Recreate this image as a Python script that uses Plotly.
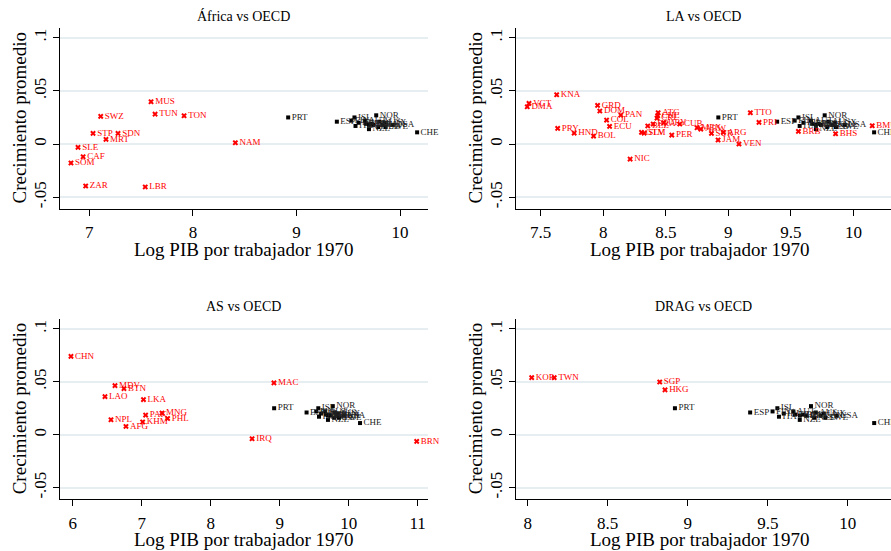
import plotly.graph_objects as go

# ---------------- data ----------------
oecd_codes = ["PRT", "ESP", "FIN", "ISL", "ITA", "IRL", "AUT", "FRA", "GBR", "NZL",
              "BEL", "DNK", "NOR", "NLD", "AUS", "CAN", "LUX", "SWE", "USA", "CHE"]
oecd_x = [8.92, 9.39, 9.53, 9.56, 9.57, 9.60, 9.66, 9.67, 9.70, 9.70,
          9.72, 9.74, 9.77, 9.79, 9.80, 9.83, 9.85, 9.86, 9.93, 10.165]
oecd_y = [0.025, 0.021, 0.022, 0.025, 0.017, 0.020, 0.022, 0.019, 0.018, 0.014,
          0.019, 0.018, 0.027, 0.016, 0.021, 0.018, 0.020, 0.016, 0.018, 0.011]

africa_codes = ["MUS", "TUN", "TON", "SWZ", "STP", "SDN", "MRT", "SLE", "CAF", "SOM", "ZAR", "LBR", "NAM"]
africa_x = [7.596, 7.635, 7.915, 7.11, 7.036, 7.277, 7.161, 6.891, 6.94, 6.823, 6.965, 7.54, 8.41]
africa_y = [0.0397, 0.0281, 0.0266, 0.026, 0.010, 0.010, 0.0044, -0.0031, -0.0119, -0.0178, -0.0394, -0.0403, 0.0012]

la_codes = ["VCT", "DMA", "KNA", "PRY", "HND", "BOL", "GRD", "DOM", "COL", "ECU", "PAN", "NIC",
            "GTM", "SLV", "BLZ", "BRA", "ATG", "CHL", "CRI", "URY", "CUB", "PER", "MEX", "ABW",
            "SUR", "ARG", "JAM", "VEN", "TTO", "PRI", "BRB", "BHS", "BMU"]
la_x = [7.407, 7.393, 7.628, 7.636, 7.768, 7.923, 7.955, 7.973, 8.027, 8.051, 8.141, 8.215,
        8.306, 8.327, 8.356, 8.399, 8.439, 8.435, 8.43, 8.484, 8.612, 8.548, 8.75, 8.78,
        8.865, 8.96, 8.918, 9.085, 9.176, 9.245, 9.56, 9.857, 10.15]
la_y = [0.0382, 0.035, 0.0463, 0.0147, 0.0103, 0.0075, 0.0363, 0.031, 0.0225, 0.0166, 0.0272, -0.0141,
        0.011, 0.0103, 0.017, 0.0188, 0.0294, 0.0266, 0.0244, 0.020, 0.0188, 0.0084, 0.0153, 0.014,
        0.010, 0.011, 0.0038, 0.0, 0.0294, 0.0203, 0.0119, 0.0097, 0.0172]

as_codes = ["CHN", "MDV", "BTN", "LAO", "LKA", "NPL", "AFG", "PAK", "KHM", "MNG", "PHL", "MAC", "IRQ", "BRN"]
as_x = [5.975, 6.613, 6.743, 6.468, 7.026, 6.555, 6.772, 7.057, 7.014, 7.294, 7.376, 8.917, 8.60, 10.986]
as_y = [0.074, 0.0463, 0.0435, 0.036, 0.0332, 0.0141, 0.0078, 0.0185, 0.012, 0.0204, 0.0153, 0.0489, -0.0038, -0.0063]

drag_codes = ["KOR", "TWN", "SGP", "HKG"]
drag_x = [8.025, 8.166, 8.825, 8.858]
drag_y = [0.0539, 0.0539, 0.0498, 0.0423]

panel_titles = ["África vs OECD", "LA vs OECD", "AS vs OECD", "DRAG vs OECD"]
x_ticks = [[7, 8, 9, 10], [7.5, 8, 8.5, 9, 9.5, 10], [6, 7, 8, 9, 10, 11], [8, 8.5, 9, 9.5, 10]]
x_ranges = [[6.717, 10.27], [7.303, 10.30], [5.816, 11.15], [7.927, 10.27]]
y_tickvals = [0.1, 0.05, 0, -0.05]
y_ticktext = [".1", ".05", "0", "-.05"]
x_title = "Log PIB por trabajador 1970"
y_title = "Crecimiento promedio"

# ---------------- figure ----------------
FONT = "Liberation Serif"
W, H = 891, 551
fig = go.Figure()

groups = [(africa_codes, africa_x, africa_y), (la_codes, la_x, la_y),
          (as_codes, as_x, as_y), (drag_codes, drag_x, drag_y)]

def px_x(p):
    return p / W

def px_y(p):
    return 1 - p / H

x_domains = [[px_x(60), px_x(428)], [px_x(516), 1.0], [px_x(60), px_x(428)], [px_x(516), 1.0]]
y_domains = [[px_y(209), px_y(28)], [px_y(209), px_y(28)], [px_y(499.3), px_y(319.3)], [px_y(499.3), px_y(319.3)]]

for i, (codes, xs, ys) in enumerate(groups):
    ax = "" if i == 0 else str(i + 1)
    fig.add_trace(go.Scatter(
        x=oecd_x, y=oecd_y, text=oecd_codes, mode="markers+text",
        textposition="middle right",
        marker=dict(symbol="square", size=4, color="black"),
        textfont=dict(family=FONT, size=9, color="#222222"),
        xaxis="x" + ax, yaxis="y" + ax, showlegend=False, cliponaxis=False))
    fig.add_trace(go.Scatter(
        x=xs, y=ys, text=codes, mode="markers+text",
        textposition="middle right",
        marker=dict(symbol="x", size=5, color="#ff0000", line=dict(width=0)),
        textfont=dict(family=FONT, size=9, color="#ff0000"),
        xaxis="x" + ax, yaxis="y" + ax, showlegend=False, cliponaxis=False))

layout = dict(
    template="none",
    width=W, height=H, margin=dict(l=0, r=0, t=0, b=0, autoexpand=False),
    paper_bgcolor="white", plot_bgcolor="white",
    font=dict(family=FONT, color="black"),
)
annotations = []
ytitle_x = [19, 475, 19, 475]
xtitle_cx = [244, 700, 244, 700]
xtitle_y = [249, 249, 539, 539]
for i in range(4):
    ax = "" if i == 0 else str(i + 1)
    layout["xaxis" + ax] = dict(
        domain=x_domains[i], range=x_ranges[i], anchor="y" + ax, automargin=False,
        tickvals=x_ticks[i], ticktext=[("%g" % v) for v in x_ticks[i]],
        ticks="outside", ticklen=6, tickcolor="black", tickwidth=1, showgrid=False, zeroline=False,
        showline=True, linecolor="black", linewidth=1, ticklabelstandoff=2,
        tickfont=dict(family=FONT, size=17, color="black"),
    )
    layout["yaxis" + ax] = dict(
        domain=y_domains[i], range=[-0.061, 0.109], anchor="x" + ax, automargin=False,
        tickvals=y_tickvals, ticktext=y_ticktext, tickangle=-90,
        ticks="outside", ticklen=6, tickcolor="black", tickwidth=1,
        showgrid=True, gridcolor="#e6eef2", gridwidth=1.5, zeroline=False,
        showline=True, linecolor="black", linewidth=1, ticklabelstandoff=0,
        tickfont=dict(family=FONT, size=17, color="black"),
    )
    cx = (x_domains[i][0] + x_domains[i][1]) / 2
    ty = px_y(16) if i < 2 else px_y(306)
    annotations.append(dict(text=panel_titles[i], x=cx, y=ty, xref="paper", yref="paper",
                            showarrow=False, font=dict(family=FONT, size=14, color="black"),
                            xanchor="center", yanchor="middle"))
    annotations.append(dict(text=x_title, x=px_x(xtitle_cx[i]), y=px_y(xtitle_y[i]),
                            xref="paper", yref="paper", showarrow=False,
                            font=dict(family=FONT, size=19, color="black"),
                            xanchor="center", yanchor="middle"))
    ycen = (y_domains[i][0] + y_domains[i][1]) / 2
    annotations.append(dict(text=y_title, x=px_x(ytitle_x[i]), y=ycen, textangle=-90,
                            xref="paper", yref="paper", showarrow=False,
                            font=dict(family=FONT, size=19, color="black"),
                            xanchor="center", yanchor="middle"))
layout["annotations"] = annotations
fig.update_layout(**layout)
fig.write_html("out.html", config={"displayModeBar": False},
               post_script="document.body.style.margin='0';")
